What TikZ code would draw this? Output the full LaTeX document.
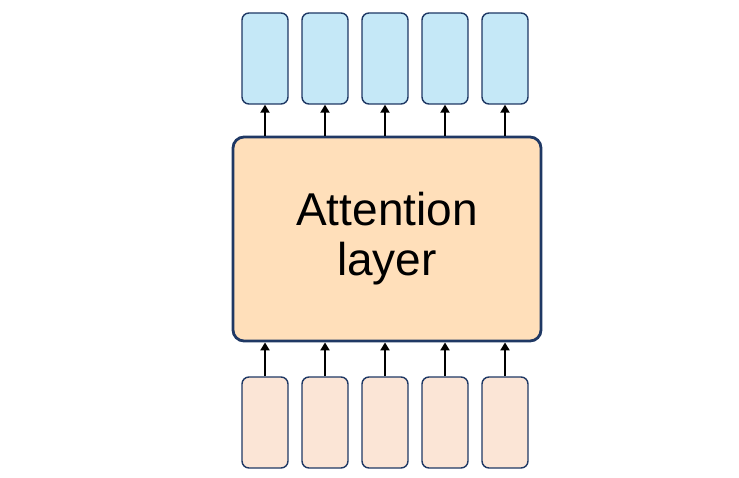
\documentclass[tikz,border=0pt]{standalone}
\usepackage{fontspec}
\setmainfont{Liberation Sans}
\usepackage{tikz}
\usetikzlibrary{arrows.meta, positioning}
\definecolor{edgeblue}{HTML}{1F3864}
\definecolor{outfill}{HTML}{C5E8F7}
\definecolor{infill}{HTML}{FBE5D6}
\definecolor{attfill}{HTML}{FFDFBA}

\begin{document}
\begin{tikzpicture}[
  x=1pt, y=-1pt,
  >={Triangle[length=8pt, width=9pt]},
  tok/.style={draw=edgeblue, line width=1.4pt, rounded corners=7pt,
              fill=#1, minimum width=46pt, minimum height=91pt, inner sep=0pt},
  att/.style={draw=edgeblue, line width=2.8pt, rounded corners=11pt,
              fill=attfill, minimum width=308pt, minimum height=204pt,
              align=center, font=\fontsize{46}{50}\selectfont},
  link/.style={->, line width=2.4pt},
]
  \useasboundingbox (0,0) rectangle (739,478);

  % --- attention block ----------------------------------------------
  \node[att] (att) at (387,239) {Attention\\layer};

  % --- output tokens (top) ------------------------------------------
  \node[tok=outfill] (o1) at (265,58.5) {};
  \node[tok=outfill] (o2) at (325,58.5) {};
  \node[tok=outfill] (o3) at (385,58.5) {};
  \node[tok=outfill] (o4) at (445,58.5) {};
  \node[tok=outfill] (o5) at (505,58.5) {};

  % --- input tokens (bottom) ----------------------------------------
  \node[tok=infill] (i1) at (265,422.5) {};
  \node[tok=infill] (i2) at (325,422.5) {};
  \node[tok=infill] (i3) at (385,422.5) {};
  \node[tok=infill] (i4) at (445,422.5) {};
  \node[tok=infill] (i5) at (505,422.5) {};

  \draw[link] (o1.south |- att.north) -- (o1.south);
  \draw[link] (o2.south |- att.north) -- (o2.south);
  \draw[link] (o3.south |- att.north) -- (o3.south);
  \draw[link] (o4.south |- att.north) -- (o4.south);
  \draw[link] (o5.south |- att.north) -- (o5.south);

  \draw[link] (i1.north) -- (i1.north |- att.south);
  \draw[link] (i2.north) -- (i2.north |- att.south);
  \draw[link] (i3.north) -- (i3.north |- att.south);
  \draw[link] (i4.north) -- (i4.north |- att.south);
  \draw[link] (i5.north) -- (i5.north |- att.south);
\end{tikzpicture}
\end{document}
